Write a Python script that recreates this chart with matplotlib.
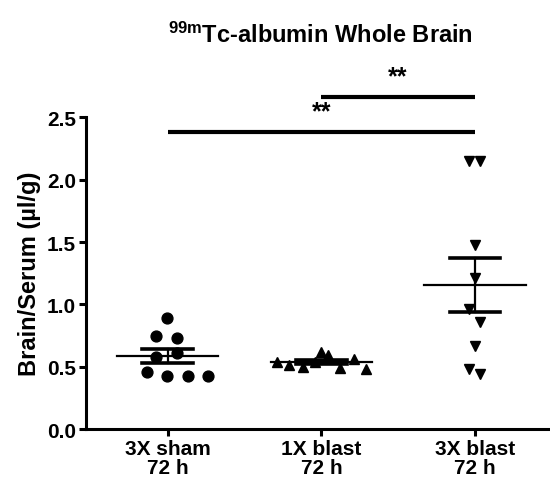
import numpy as np
import matplotlib
matplotlib.use("Agg")
import matplotlib.pyplot as plt

plt.rcParams['font.family'] = ['Liberation Sans', 'DejaVu Sans']
plt.rcParams['font.weight'] = 'bold'
plt.rcParams['mathtext.fontset'] = 'custom'
plt.rcParams['mathtext.rm'] = 'Liberation Sans:bold'
plt.rcParams['mathtext.it'] = 'Liberation Sans:bold'
plt.rcParams['mathtext.bf'] = 'Liberation Sans:bold'

# data
groups = ["3X sham\n72 h", "1X blast\n72 h", "3X blast\n72 h"]
sham3x = [0.89, 0.746, 0.73, 0.575, 0.61, 0.46, 0.43, 0.43, 0.425]
blast1x = [0.54, 0.515, 0.5, 0.54, 0.62, 0.595, 0.488, 0.56, 0.482]
blast3x = [2.15, 2.15, 1.474, 1.216, 0.962, 0.86, 0.663, 0.48, 0.44]
# horizontal scatter of the points within each group
sham3x_dx = [-0.006, -0.078, 0.058, -0.078, 0.058, -0.136, -0.006, 0.13, 0.26]
blast1x_dx = [-0.29, -0.21, -0.12, -0.04, 0.0, 0.045, 0.12, 0.21, 0.29]
blast3x_dx = [-0.04, 0.035, 0.0, 0.0, -0.04, 0.035, 0.0, -0.04, 0.035]
yticks = [0.0, 0.5, 1.0, 1.5, 2.0, 2.5]

fig = plt.figure(figsize=(5.5, 4.85), dpi=100)
ax = fig.add_axes([0.156, 0.113, 0.84, 0.643])

series = [(sham3x, sham3x_dx, 'o', 7.8), (blast1x, blast1x_dx, '^', 7), (blast3x, blast3x_dx, 'v', 7)]
for i, (vals, dx, mk, ms) in enumerate(series):
    vals = np.array(vals)
    ax.plot(i + np.array(dx), vals, ls='none', marker=mk, ms=ms, color='k', clip_on=False)
    m = vals.mean()
    sem = vals.std(ddof=1) / np.sqrt(len(vals))
    ax.plot([i - 0.33, i + 0.33], [m, m], color='k', lw=1.6)
    ax.plot([i, i], [m - sem, m + sem], color='k', lw=1.6)
    for y in (m - sem, m + sem):
        ax.plot([i - 0.165, i + 0.165], [y, y], color='k', lw=2.6)

# significance bars
for x0, x1, y in [(0, 2, 2.38), (1, 2, 2.66)]:
    ax.plot([x0, x1], [y, y], color='k', lw=3, clip_on=False, solid_capstyle='butt')
    ax.text((x0 + x1) / 2, y + 0.07, "**", ha='center', va='bottom', fontsize=18, fontweight='bold')

ax.set_xlim(-0.534, 2.475)
ax.set_ylim(0, 2.5)
ax.set_xticks(range(len(groups)))
ax.set_xticklabels(groups, fontsize=15, fontweight='bold', linespacing=1.0)
ax.set_yticks(yticks)
ax.set_yticklabels(["%.1f" % t for t in yticks], fontsize=15, fontweight='bold')
ax.spines['top'].set_visible(False)
ax.spines['right'].set_visible(False)
for s in ('left', 'bottom'):
    ax.spines[s].set_linewidth(2.2)
ax.tick_params(direction='out', length=5, width=2.2, pad=2)
ax.set_ylabel("Brain/Serum (µl/g)", fontsize=17, fontweight='bold', labelpad=4)

fig.text(0.582, 0.928, r"$^{\mathbf{99m}}$Tc-albumin Whole Brain", ha='center', va='center', fontsize=17, fontweight='bold')

plt.savefig("out.png", dpi=100)
